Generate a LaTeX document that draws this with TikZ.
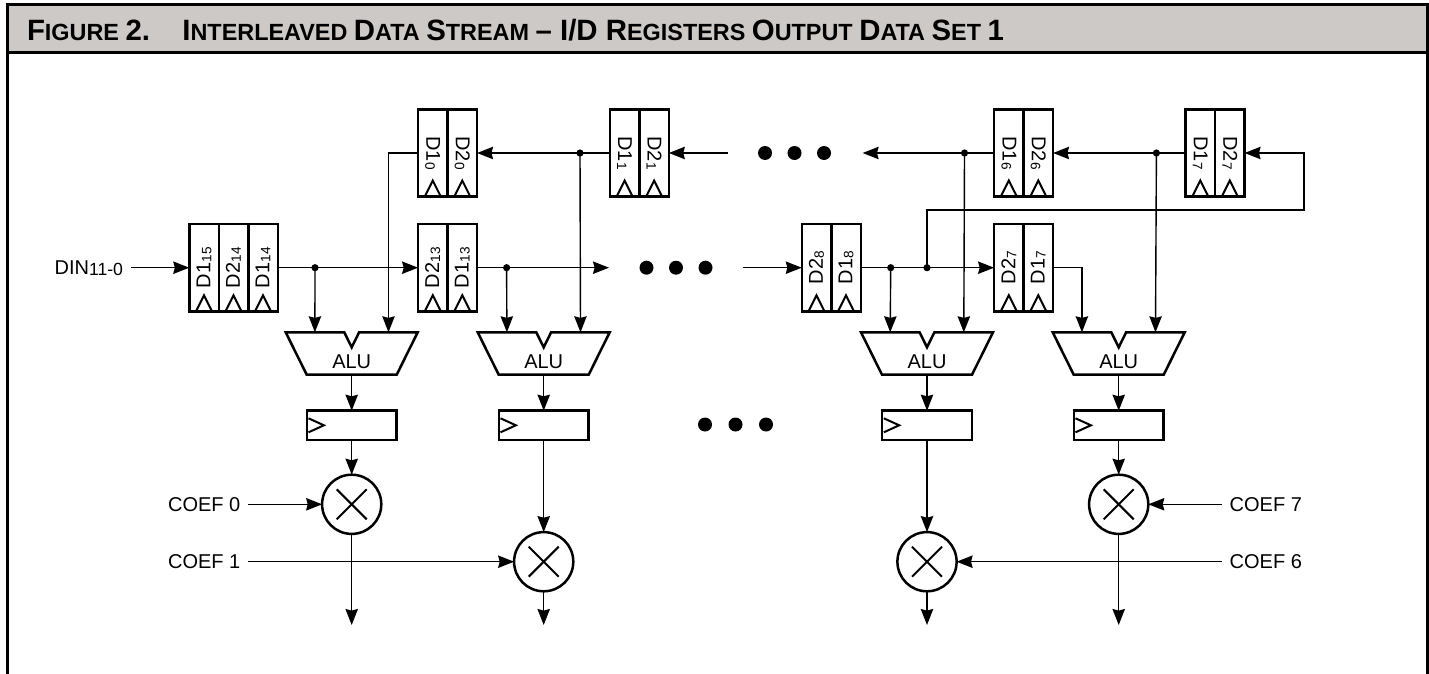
\documentclass[tikz,border=0pt]{standalone}
\usepackage{fontspec}
\setmainfont{Liberation Sans}
\usepackage{xcolor}
\usetikzlibrary{arrows.meta,calc}
\definecolor{headgray}{HTML}{CDC9C7}
\newcommand{\regsub}[1]{\raisebox{-0.5pt}{\fontsize{6.8}{7}\selectfont #1}}
\newcommand{\capbig}[1]{{\fontsize{14.7}{15}\selectfont #1}}
\newcommand{\regup}[1]{\rotatebox{90}{#1}}
\newcommand{\regdn}[1]{\rotatebox{-90}{#1}}
\tikzset{
  link/.style={line width=0.7pt},
  arrowlink/.style={link,-{Stealth[length=8pt,width=6.2pt,inset=0.8pt]}},
  boxline/.style={line width=1.25pt},
  lbl/.style={inner sep=4pt,outer sep=0pt,text height=7pt,text depth=0pt,font=\fontsize{10}{12}\selectfont},
  regcell/.style={draw,boxline,minimum width=14.75pt,minimum height=43.6pt,inner sep=0pt,outer sep=0pt,
    font=\fontsize{10}{12}\selectfont,
    path picture={\draw[line width=1pt] ([xshift=-4pt]path picture bounding box.south) -- ([yshift=8pt]path picture bounding box.south) -- ([xshift=4pt]path picture bounding box.south);}},
  outreg/.style={draw,boxline,minimum width=44.8pt,minimum height=14.6pt,inner sep=0pt,outer sep=0pt,
    path picture={\draw[line width=1pt] ([yshift=3.5pt,xshift=0.8pt]path picture bounding box.west) -- ([xshift=8.5pt]path picture bounding box.west) -- ([yshift=-3.5pt,xshift=0.8pt]path picture bounding box.west);}},
  mulcirc/.style={draw,boxline,circle,minimum size=29.6pt,inner sep=0pt,outer sep=0pt,
    path picture={\draw[line width=1pt] ($(path picture bounding box.center)+(-7.5pt,-7.5pt)$) -- ($(path picture bounding box.center)+(7.5pt,7.5pt)$) ($(path picture bounding box.center)+(-7.5pt,7.5pt)$) -- ($(path picture bounding box.center)+(7.5pt,-7.5pt)$);}},
  jdot/.style={circle,fill=black,minimum size=3.6pt,inner sep=0pt,outer sep=0pt},
  bigdot/.style={circle,fill=black,minimum size=7pt,inner sep=0pt,outer sep=0pt}
}

\begin{document}
\begin{tikzpicture}[x=0.5pt,y=-0.5pt]
    \useasboundingbox (0,0) rectangle (1429,674);
    \fill[headgray] (7,5) rectangle (1427,53);
    \draw[line width=1.5pt] (7,674) -- (7,5) -- (1427,5) -- (1427,674);
    \draw[line width=1.5pt] (7,53) -- (1427,53);
    \node[anchor=base west,inner sep=0pt,font=\bfseries\fontsize{11.7}{14}\selectfont] (figno) at (26.6,40.5) {\capbig{F}IGURE \capbig{2.}};
    \node[anchor=base west,inner sep=0pt,font=\bfseries\fontsize{11.7}{14}\selectfont] (title) at (182,40.5) {\capbig{I}NTERLEAVED \capbig{D}ATA \capbig{S}TREAM \capbig{– I/D R}EGISTERS \capbig{O}UTPUT \capbig{D}ATA \capbig{S}ET \capbig{1}};

    \node[regcell] (r115) at (204,267.7) {\regup{D1\regsub{15}}};
    \node[regcell] (r214) at (233.5,267.7) {\regup{D2\regsub{14}}};
    \node[regcell] (r114) at (263,267.7) {\regup{D1\regsub{14}}};
    \node[regcell] (r213) at (432.8,267.7) {\regup{D2\regsub{13}}};
    \node[regcell] (r113) at (462.3,267.7) {\regup{D1\regsub{13}}};
    \node[regcell] (r28) at (816.5,267.7) {\regup{D2\regsub{8}}};
    \node[regcell] (r18) at (846,267.7) {\regup{D1\regsub{8}}};
    \node[regcell] (r27b) at (1008.8,267.7) {\regup{D2\regsub{7}}};
    \node[regcell] (r17b) at (1038.3,267.7) {\regup{D1\regsub{7}}};

    \node[regcell] (r10) at (432.8,153) {\regdn{D1\regsub{0}}};
    \node[regcell] (r20) at (462.3,153) {\regdn{D2\regsub{0}}};
    \node[regcell] (r11) at (624.6,153) {\regdn{D1\regsub{1}}};
    \node[regcell] (r21) at (654.1,153) {\regdn{D2\regsub{1}}};
    \node[regcell] (r16) at (1008.8,153) {\regdn{D1\regsub{6}}};
    \node[regcell] (r26) at (1038.3,153) {\regdn{D2\regsub{6}}};
    \node[regcell] (r17t) at (1200.3,153) {\regdn{D1\regsub{7}}};
    \node[regcell] (r27t) at (1229.8,153) {\regdn{D2\regsub{7}}};

    \foreach \n/\xx in {1/351.7,2/543.7,3/927,4/1118.7} {
        \begin{scope}[shift={(\xx,332.3)}]
            \draw[boxline] (-66,0) -- (-7.4,0) -- (0,15) -- (7.4,0) -- (66,0) -- (45,42.4) -- (-45,42.4) -- cycle;
            \node[inner sep=0pt,font=\fontsize{10}{12}\selectfont] (alu\n) at (0,29) {ALU};
            \coordinate (alu\n a) at (-36.8,0);
            \coordinate (alu\n b) at (36.8,0);
            \coordinate (alu\n o) at (0,42.4);
        \end{scope}
        \node[outreg] (reg\n) at (\xx,425.3) {};
    }

    \node[mulcirc] (mul1) at (351.7,504.3) {};
    \node[mulcirc] (mul2) at (543.7,561.7) {};
    \node[mulcirc] (mul3) at (927,561.7) {};
    \node[mulcirc] (mul4) at (1118.7,504.3) {};

    \node[lbl,anchor=east] (din) at (131,267.7) {DIN\regsub{\fontsize{8.8}{9}\selectfont 11-0}};
    \node[lbl,anchor=east] (coef0) at (248.3,504.3) {COEF 0};
    \node[lbl,anchor=east] (coef1) at (248.3,561.7) {COEF 1};
    \node[lbl,anchor=west] (coef7) at (1221.7,504.3) {COEF 7};
    \node[lbl,anchor=west] (coef6) at (1221.7,561.7) {COEF 6};

    \node[jdot] (j1) at (315,267.7) {};
    \node[jdot] (j2) at (506.6,267.7) {};
    \node[jdot] (j3) at (890.7,267.7) {};
    \node[jdot] (j4) at (927,267.7) {};
    \node[jdot] (j5) at (580,153) {};
    \node[jdot] (j6) at (964.5,153) {};
    \node[jdot] (j7) at (1156.4,153) {};

    \foreach \n/\xx/\yy in {a/765/153,b/794.5/153,c/824/153,d/646.5/267.7,e/676/267.7,f/705.5/267.7,g/705/424.5,h/735.5/424.5,i/766/424.5} {
        \node[bigdot] (dots\n) at (\xx,\yy) {};
    }

    \coordinate (e1) at (609,267.7);
    \coordinate (e2) at (742.6,267.7);
    \coordinate (e3) at (728,153);
    \coordinate (e4) at (862.6,153);
    \coordinate (fb) at (1304,210);
    \coordinate (out1) at (351.7,625);
    \coordinate (out2) at (543.7,625);
    \coordinate (out3) at (927,625);
    \coordinate (out4) at (1118.7,625);

    \draw[arrowlink] (din.east) -- (r115.west);
    \draw[arrowlink] (r114.east) -- (r213.west);
    \draw[arrowlink] (r113.east) -- (e1);
    \draw[arrowlink] (e2) -- (r28.west);
    \draw[arrowlink] (r18.east) -- (r27b.west);
    \draw[arrowlink] (r17b.east) -| (alu4a);
    \draw[arrowlink] (e3) -- (r21.east);
    \draw[arrowlink] (r11.west) -- (r20.east);
    \draw[arrowlink] (r16.west) -- (e4);
    \draw[arrowlink] (r17t.west) -- (r26.east);
    \draw[arrowlink] (j4.center) |- (fb) |- (r27t.east);
    \draw[arrowlink] (r10.west) -| (alu1b);
    \draw[arrowlink] (j1.center) -- (alu1a);
    \draw[arrowlink] (j2.center) -- (alu2a);
    \draw[arrowlink] (j3.center) -- (alu3a);
    \draw[arrowlink] (j5.center) -- (alu2b);
    \draw[arrowlink] (j6.center) -- (alu3b);
    \draw[arrowlink] (j7.center) -- (alu4b);

    \foreach \n in {1,2,3,4} {
        \draw[arrowlink] (alu\n o) -- (reg\n.north);
        \draw[arrowlink] (reg\n.south) -- (mul\n.north);
        \draw[arrowlink] (mul\n.south) -- (out\n);
    }

    \draw[arrowlink] (coef0.east) -- (mul1.west);
    \draw[arrowlink] (coef1.east) -- (mul2.west);
    \draw[arrowlink] (coef7.west) -- (mul4.east);
    \draw[arrowlink] (coef6.west) -- (mul3.east);
\end{tikzpicture}
\end{document}
